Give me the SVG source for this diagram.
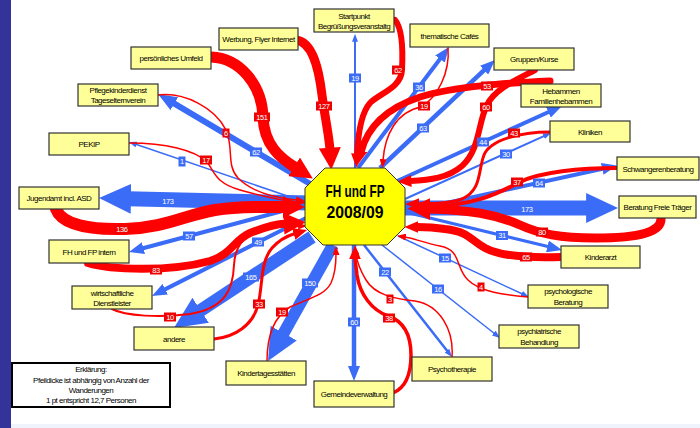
<svg xmlns="http://www.w3.org/2000/svg" width="700" height="428" viewBox="0 0 700 428">
<style>
.n rect{fill:#ffff99;stroke:#333;stroke-width:1.2}
.n text,.lg text{font-family:"Liberation Sans",Arial,sans-serif;font-size:8px;letter-spacing:-0.5px;text-anchor:middle;fill:#000}
.b{stroke:#3b6cf7;fill:none}
.r{stroke:#ff0000;fill:none;stroke-linecap:round}
.lb rect{fill:#3b6cf7}
.lr rect{fill:#f00000}
.lb text,.lr text,.t173{font-family:"Liberation Sans",Arial,sans-serif;font-size:7.5px;letter-spacing:-0.4px;text-anchor:middle;fill:#fff}
.ctr text{font-family:"Liberation Sans",Arial,sans-serif;font-size:17px;font-weight:bold;text-anchor:middle;fill:#000}
</style>
<defs>
<marker id="bS" markerUnits="userSpaceOnUse" viewBox="0 0 8 6" markerWidth="8" markerHeight="6" refX="0.8" refY="3" orient="auto"><path d="M0,0L8,3L0,6z" fill="#3b6cf7"/></marker>
<marker id="bM" markerUnits="userSpaceOnUse" viewBox="0 0 15 12" markerWidth="15" markerHeight="12" refX="1.5" refY="6" orient="auto"><path d="M0,0L15,6L0,12z" fill="#3b6cf7"/></marker>
<marker id="bL" markerUnits="userSpaceOnUse" viewBox="0 0 19 15" markerWidth="19" markerHeight="15" refX="1.9" refY="7.5" orient="auto"><path d="M0,0L19,7.5L0,15z" fill="#3b6cf7"/></marker>
<marker id="bXL" markerUnits="userSpaceOnUse" viewBox="0 0 32 30" markerWidth="32" markerHeight="30" refX="3.2" refY="15" orient="auto"><path d="M0,0L32,15L0,30z" fill="#3b6cf7"/></marker>
<marker id="rS" markerUnits="userSpaceOnUse" viewBox="0 0 9 7" markerWidth="9" markerHeight="7" refX="0.9" refY="3.5" orient="auto"><path d="M0,0L9,3.5L0,7z" fill="#ff0000"/></marker>
<marker id="rM" markerUnits="userSpaceOnUse" viewBox="0 0 14 12" markerWidth="14" markerHeight="12" refX="1.4" refY="6" orient="auto"><path d="M0,0L14,6L0,12z" fill="#ff0000"/></marker>
<marker id="rL" markerUnits="userSpaceOnUse" viewBox="0 0 22 22" markerWidth="22" markerHeight="22" refX="2.2" refY="11" orient="auto"><path d="M0,0L22,11L0,22z" fill="#ff0000"/></marker>
</defs>
<rect x="0" y="0" width="700" height="428" fill="#fff"/>
<rect x="0" y="0" width="11" height="428" fill="#333399"/>
<rect x="11" y="424" width="689" height="4" fill="#eef3fc"/>

<g id="connectors">
<g id="blue">
<line class="b" x1="355" y1="168" x2="355" y2="41" stroke-width="2" marker-end="url(#bS)"/>
<line class="b" x1="358" y1="168" x2="440.9" y2="57.8" stroke-width="4" marker-end="url(#bM)"/>
<line class="b" x1="380" y1="168" x2="485.2" y2="69.2" stroke-width="4.5" marker-end="url(#bM)"/>
<line class="b" x1="395" y1="182" x2="549.7" y2="111.5" stroke-width="4" marker-end="url(#bM)"/>
<line class="b" x1="405" y1="199" x2="544.4" y2="135.9" stroke-width="2" marker-end="url(#bS)"/>
<line class="b" x1="405" y1="212" x2="603.7" y2="168.5" stroke-width="4" marker-end="url(#bM)"/>
<line class="b" x1="400" y1="208" x2="589.3" y2="208" stroke-width="15" marker-end="url(#bXL)"/>
<line class="b" x1="405" y1="212" x2="548.9" y2="246.8" stroke-width="3" marker-end="url(#bM)"/>
<line class="b" x1="398" y1="236" x2="522.4" y2="294" stroke-width="1.5" marker-end="url(#bS)"/>
<line class="b" x1="382" y1="245" x2="494.4" y2="333.5" stroke-width="1.5" marker-end="url(#bS)"/>
<line class="b" x1="364" y1="245" x2="447.5" y2="351.3" stroke-width="2.5" marker-end="url(#bS)"/>
<line class="b" x1="354" y1="245" x2="354" y2="367.5" stroke-width="4.5" marker-end="url(#bM)"/>
<line class="b" x1="333" y1="245" x2="282.1" y2="335.9" stroke-width="12" marker-end="url(#bXL)"/>
<line class="b" x1="312" y1="237" x2="198" y2="312.1" stroke-width="13" marker-end="url(#bXL)"/>
<line class="b" x1="306" y1="218" x2="164" y2="289.9" stroke-width="4" marker-end="url(#bM)"/>
<line class="b" x1="305" y1="205" x2="142" y2="248.5" stroke-width="4" marker-end="url(#bM)"/>
<line class="b" x1="310" y1="203" x2="127.8" y2="198.7" stroke-width="15" marker-end="url(#bXL)"/>
<line class="b" x1="305" y1="202" x2="135.8" y2="144.3" stroke-width="1.5" marker-end="url(#bS)"/>
<line class="b" x1="312" y1="185" x2="172.7" y2="102.7" stroke-width="6" marker-end="url(#bL)"/>
</g>
<g id="red">
<path class="r" d="M296,40 C313,42 319,70 322,95 C325,118 329,135 330,150" stroke-width="9" marker-end="url(#rL)"/>
<path class="r" d="M211,57 C240,58 262,85 263,117 C264,145 280,158 296,168" stroke-width="11" marker-end="url(#rL)"/>
<path class="r" d="M395,20 C402,28 403,50 402,70 C401,88 380,93 370,103 C361,113 358,135 357,155" stroke-width="6" marker-end="url(#rM)"/>
<path class="r" d="M550,81 C510,83 455,86 420,97 C390,107 368,125 361,152" stroke-width="7" marker-end="url(#rM)"/>
<path class="r" d="M448,48 C450,72 438,97 421,107 C396,112 385,135 383,160" stroke-width="1.5" marker-end="url(#rS)"/>
<path class="r" d="M535,70 C520,78 495,88 487,105 C478,122 480,150 462,166 C448,178 430,180 410,181" stroke-width="6" marker-end="url(#rM)"/>
<path class="r" d="M550,132 C520,132 490,140 484,155 C478,170 482,190 462,199 C448,204 430,204 418,204" stroke-width="3" marker-end="url(#rM)"/>
<path class="r" d="M617,168 C580,168 540,172 520,182 C500,192 480,205 420,208" stroke-width="4" marker-end="url(#rM)"/>
<path class="r" d="M661,218 C662,232 640,238 595,238 C560,238 540,234 520,225 C495,214 470,210 428,209" stroke-width="9" marker-end="url(#rL)"/>
<path class="r" d="M561,257 C530,258 500,256 485,248 C470,240 470,232 445,229 C432,227 424,227 417,227" stroke-width="8" marker-end="url(#rM)"/>
<path class="r" d="M528,297 C505,295 480,292 468,280 C455,268 462,250 440,246 C425,243 412,238 405,237" stroke-width="1.5" marker-end="url(#rS)"/>
<path class="r" d="M452,357 C454,330 440,305 415,301 C395,299 375,295 366,280 C360,270 357,262 356,254" stroke-width="1.5" marker-end="url(#rS)"/>
<path class="r" d="M393,393 C405,388 411,375 411,355 C411,330 400,320 388,316 C372,310 360,295 357,275 C356,265 355,262 355,258" stroke-width="3.5" marker-end="url(#rM)"/>
<path class="r" d="M267,361 C267,340 272,318 290,307 C310,298 325,295 331,283 C336,272 336,262 336,254" stroke-width="1.5" marker-end="url(#rS)"/>
<path class="r" d="M214,339 C235,337 253,325 258,305 C263,285 260,262 272,248 C280,239 290,235 295,233.5" stroke-width="3" marker-end="url(#rM)"/>
<path class="r" d="M112,309 C125,316 160,318 190,314 C225,308 233,290 234,265 C235,245 245,232 270,228 C282,226 292,226 299,226" stroke-width="2" marker-end="url(#rS)"/>
<path class="r" d="M88,263 C110,270 170,272 210,261 C232,254 234,240 250,233 C265,227 278,224 286,223.5" stroke-width="8" marker-end="url(#rL)"/>
<path class="r" d="M56,209 C62,225 90,230 125,229 C165,228 185,215 215,210 C240,206 265,207 285,207" stroke-width="12" marker-end="url(#rL)"/>
<path class="r" d="M129,143 C165,143 195,150 207,162 C215,172 215,183 240,190 C265,197 285,201 298,202" stroke-width="1.5" marker-end="url(#rS)"/>
<path class="r" d="M158,95 C185,92 215,108 226,130 C234,148 226,165 238,178 C252,192 275,198 297,200" stroke-width="1.5" marker-end="url(#rS)"/>
</g>
<g id="labels">
<text class="t173" x="168" y="203.5">173</text>
<text class="t173" x="527" y="211.5">173</text>
<g class="lb">
<rect x="349" y="73.5" width="12" height="9"/><text x="355" y="80.7">19</text>
<rect x="413" y="82.5" width="12" height="9"/><text x="419" y="89.7">36</text>
<rect x="417" y="123.5" width="12" height="9"/><text x="423" y="130.7">63</text>
<rect x="477" y="137.5" width="12" height="9"/><text x="483" y="144.7">44</text>
<rect x="500" y="149.5" width="12" height="9"/><text x="506" y="156.7">30</text>
<rect x="533" y="178.5" width="12" height="9"/><text x="539" y="185.7">64</text>
<rect x="496" y="231" width="12" height="9"/><text x="502" y="238.2">31</text>
<rect x="439" y="253.5" width="12" height="9"/><text x="445" y="260.7">15</text>
<rect x="432" y="284.5" width="12" height="9"/><text x="438" y="291.7">16</text>
<rect x="379" y="267.5" width="12" height="9"/><text x="385" y="274.7">22</text>
<rect x="348" y="317.5" width="12" height="9"/><text x="354" y="324.7">60</text>
<rect x="302" y="278.5" width="16" height="9"/><text x="310" y="285.7">150</text>
<rect x="243" y="272.5" width="16" height="9"/><text x="251" y="279.7">165</text>
<rect x="252" y="237.5" width="12" height="9"/><text x="258" y="244.7">49</text>
<rect x="183" y="231.5" width="12" height="9"/><text x="189" y="238.7">57</text>
<rect x="178.5" y="156.5" width="7" height="10"/><text x="182" y="164.2">1</text>
<rect x="250" y="147.5" width="12" height="9"/><text x="256" y="154.7">62</text>
</g>
<g class="lr">
<rect x="316" y="101.5" width="16" height="9"/><text x="324" y="108.7">127</text>
<rect x="254" y="112.5" width="16" height="9"/><text x="262" y="119.7">151</text>
<rect x="222.5" y="128.5" width="7" height="9"/><text x="226" y="135.7">6</text>
<rect x="200" y="155.5" width="12" height="9"/><text x="206" y="162.7">17</text>
<rect x="114" y="224.5" width="16" height="9"/><text x="122" y="231.7">136</text>
<rect x="392" y="65.5" width="12" height="9"/><text x="398" y="72.7">62</text>
<rect x="481" y="81.5" width="12" height="9"/><text x="487" y="88.7">53</text>
<rect x="418" y="101.5" width="12" height="9"/><text x="424" y="108.7">19</text>
<rect x="480" y="102.5" width="12" height="9"/><text x="486" y="109.7">60</text>
<rect x="508" y="128.5" width="12" height="9"/><text x="514" y="135.7">43</text>
<rect x="511" y="177.5" width="12" height="9"/><text x="517" y="184.7">37</text>
<rect x="536" y="227.5" width="12" height="9"/><text x="542" y="234.7">80</text>
<rect x="520" y="252.5" width="12" height="9"/><text x="526" y="259.7">65</text>
<rect x="477.5" y="282.5" width="7" height="9"/><text x="481" y="289.7">4</text>
<rect x="386.5" y="294.5" width="7" height="9"/><text x="390" y="301.7">3</text>
<rect x="383" y="313.5" width="12" height="9"/><text x="389" y="320.7">38</text>
<rect x="276" y="307.5" width="12" height="9"/><text x="282" y="314.7">19</text>
<rect x="253" y="299.5" width="12" height="9"/><text x="259" y="306.7">33</text>
<rect x="164" y="312.5" width="12" height="9"/><text x="170" y="319.7">10</text>
<rect x="150" y="265.5" width="12" height="9"/><text x="156" y="272.7">83</text>
</g>
</g>
</g>

<g id="center" class="ctr">
<polygon points="325,168 385,168 405,188 405,227 387,245 323,245 305,227 305,188" fill="#ffff00" stroke="#333" stroke-width="1"/>
<text x="355" y="197" textLength="59" lengthAdjust="spacingAndGlyphs">FH und FP</text>
<text x="355" y="218" textLength="57" lengthAdjust="spacingAndGlyphs">2008/09</text>
</g>

<g id="n-startpunkt" class="n"><rect x="314" y="9" width="80" height="23"/><text x="354" y="18.5">Startpunkt</text><text x="354" y="28.5">Begrüßungsveranstaltg</text></g>
<g id="n-werbung" class="n"><rect x="219" y="28" width="79" height="22"/><text x="258.5" y="42">Werbung, Flyer Internet</text></g>
<g id="n-umfeld" class="n"><rect x="131" y="47" width="80" height="22"/><text x="171" y="61">persönliches Umfeld</text></g>
<g id="n-pflege" class="n"><rect x="78" y="84" width="80" height="22"/><text x="118" y="92.5">Pflegekinderdienst</text><text x="118" y="103">Tageselternverein</text></g>
<g id="n-pekip" class="n"><rect x="49" y="133" width="80" height="22"/><text x="89" y="147">PEKIP</text></g>
<g id="n-jugendamt" class="n"><rect x="19" y="187" width="80" height="22"/><text x="59" y="201">Jugendamt incl. ASD</text></g>
<g id="n-intern" class="n"><rect x="49" y="240" width="80" height="23"/><text x="89" y="254.5">FH und FP intern</text></g>
<g id="n-wirtschaft" class="n"><rect x="72" y="286" width="80" height="23"/><text x="112" y="295.5">wirtschaftliche</text><text x="112" y="306">Dienstleister</text></g>
<g id="n-andere" class="n"><rect x="134" y="327" width="80" height="23"/><text x="174" y="341.5">andere</text></g>
<g id="n-kita" class="n"><rect x="226" y="361" width="80" height="24"/><text x="266" y="376">Kindertagesstätten</text></g>
<g id="n-gemeinde" class="n"><rect x="314" y="381" width="80" height="26"/><text x="354" y="397">Gemeindeverwaltung</text></g>
<g id="n-psychotherapie" class="n"><rect x="412" y="357" width="80" height="24"/><text x="452" y="372">Psychotherapie</text></g>
<g id="n-psychiatrie" class="n"><rect x="499" y="325" width="80" height="23"/><text x="539" y="334">psychiatrische</text><text x="539" y="344.5">Behandlung</text></g>
<g id="n-psychologie" class="n"><rect x="528" y="285" width="80" height="23"/><text x="568" y="294">psychologische</text><text x="568" y="304.5">Beratung</text></g>
<g id="n-kinderarzt" class="n"><rect x="561" y="246" width="79" height="22"/><text x="600.5" y="260">Kinderarzt</text></g>
<g id="n-freietraeger" class="n"><rect x="619" y="196" width="77" height="22"/><text x="657.5" y="210">Beratung Freie Träger</text></g>
<g id="n-schwanger" class="n"><rect x="617" y="157" width="82" height="23"/><text x="658" y="171.5">Schwangerenberatung</text></g>
<g id="n-kliniken" class="n"><rect x="550" y="121" width="80" height="21"/><text x="590" y="134.5">Kliniken</text></g>
<g id="n-hebammen" class="n"><rect x="521" y="84" width="80" height="23"/><text x="561" y="93.5">Hebammen</text><text x="561" y="104">Familienhebammen</text></g>
<g id="n-gruppen" class="n"><rect x="494" y="48" width="80" height="22"/><text x="534" y="62">Gruppen/Kurse</text></g>
<g id="n-cafes" class="n"><rect x="410" y="24" width="79" height="23"/><text x="449.5" y="38.5">thematische Cafés</text></g>

<g id="legend" class="lg">
<rect x="12" y="363" width="158" height="44" fill="#fff" stroke="#000" stroke-width="2"/>
<text x="91" y="372">Erklärung:</text>
<text x="91" y="382.5">Pfeildicke ist abhängig von Anzahl der</text>
<text x="91" y="392.5">Wanderungen</text>
<text x="91" y="402.5">1 pt entspricht 12,7 Personen</text>
</g>
</svg>
